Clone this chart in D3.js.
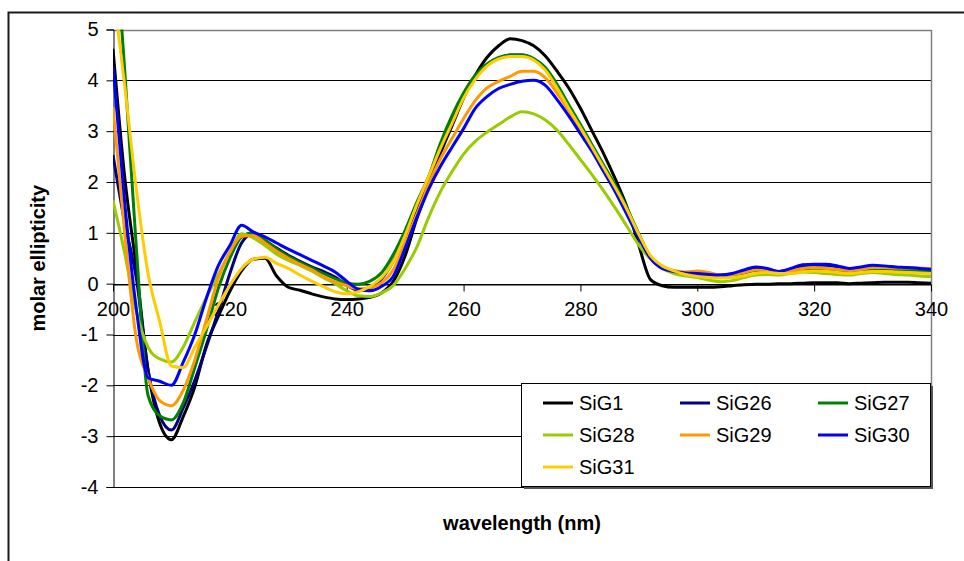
<!DOCTYPE html>
<html>
<head>
<meta charset="utf-8">
<script src="https://cdn.jsdelivr.net/npm/d3@7"></script>
<style>
  html, body { margin: 0; padding: 0; background: #fff; }
  svg text { font-family: Arial, "Liberation Sans", sans-serif; }
</style>
</head>
<body>
<svg id="chart" width="964" height="561"></svg>
<script>
// Wavelength grid (nm), 2 nm steps
const wavelengths = d3.range(200, 341, 2);

const seriesNames = ["SiG1", "SiG26", "SiG27", "SiG28", "SiG29", "SiG30", "SiG31"];
const seriesColors = ["#000000", "#000080", "#008000", "#99CC00", "#FF9900", "#0000FF", "#FFCC00"];

// Molar ellipticity per series, one value per wavelength
const sig1 = [4.62, 2.1, 0.3, -1.7, -2.75, -3.07, -2.62, -2.03, -1.2, -0.65, -0.15, 0.25, 0.48, 0.5, 0.15, -0.07,
  -0.13, -0.2, -0.26, -0.3, -0.31, -0.3, -0.27, -0.18, 0.05, 0.55, 1.28, 1.9, 2.55, 3.1, 3.65, 4.1, 4.45, 4.68,
  4.82, 4.78, 4.68, 4.48, 4.18, 3.85, 3.45, 3.0, 2.55, 2.05, 1.5, 0.75, 0.08, -0.04, -0.07, -0.07, -0.07, -0.07,
  -0.06, -0.04, -0.02, -0.01, -0.01, 0.0, 0.0, 0.01, 0.02, 0.02, 0.02, 0.0, 0.01, 0.02, 0.03, 0.03, 0.03, 0.02, 0.01];
const sig26 = [2.53, 1.2, 0.1, -1.7, -2.6, -2.88, -2.45, -1.9, -1.24, -0.55, 0.2, 0.8, 0.98, 0.85, 0.7, 0.56,
  0.44, 0.33, 0.24, 0.13, -0.03, -0.13, -0.09, 0.1, 0.45, 0.95, 1.5, 2.05, 2.65, 3.2, 3.7, 4.08, 4.3, 4.43,
  4.5, 4.5, 4.42, 4.22, 3.88, 3.48, 3.1, 2.7, 2.3, 1.9, 1.45, 0.95, 0.5, 0.32, 0.24, 0.21, 0.2, 0.18,
  0.17, 0.19, 0.24, 0.3, 0.28, 0.24, 0.28, 0.34, 0.36, 0.36, 0.33, 0.29, 0.31, 0.34, 0.34, 0.32, 0.31, 0.29, 0.27];
const sig27 = [7.5, 4.2, 0.7, -2.2, -2.6, -2.68, -2.35, -1.65, -0.91, -0.1, 0.5, 0.92, 1.0, 0.86, 0.68, 0.54,
  0.42, 0.31, 0.2, 0.1, 0.01, -0.01, 0.05, 0.22, 0.58, 1.05, 1.6, 2.1, 2.75, 3.3, 3.75, 4.1, 4.32, 4.45,
  4.5, 4.5, 4.43, 4.25, 3.92, 3.52, 3.13, 2.73, 2.33, 1.93, 1.48, 0.98, 0.52, 0.32, 0.24, 0.2, 0.18, 0.17,
  0.16, 0.17, 0.21, 0.26, 0.26, 0.23, 0.25, 0.29, 0.3, 0.29, 0.27, 0.25, 0.27, 0.29, 0.29, 0.28, 0.27, 0.26, 0.25];
const sig28 = [1.64, 0.6, -0.55, -1.25, -1.48, -1.54, -1.25, -0.75, -0.27, 0.18, 0.62, 0.98, 0.9, 0.75, 0.58, 0.46,
  0.36, 0.25, 0.12, 0.0, -0.14, -0.24, -0.25, -0.18, -0.03, 0.3, 0.72, 1.3, 1.8, 2.2, 2.55, 2.8, 2.98, 3.13,
  3.28, 3.38, 3.34, 3.22, 3.02, 2.74, 2.44, 2.14, 1.82, 1.48, 1.12, 0.76, 0.48, 0.3, 0.2, 0.15, 0.12, 0.07,
  0.04, 0.06, 0.12, 0.17, 0.18, 0.17, 0.2, 0.23, 0.22, 0.2, 0.18, 0.17, 0.2, 0.22, 0.2, 0.18, 0.17, 0.15, 0.14];
const sig29 = [3.47, 1.0, -1.1, -1.85, -2.3, -2.4, -2.1, -1.5, -0.71, 0.1, 0.62, 0.93, 0.95, 0.8, 0.64, 0.5,
  0.38, 0.27, 0.14, 0.04, -0.04, -0.1, -0.08, 0.02, 0.28, 0.8, 1.35, 1.95, 2.45, 2.85, 3.25, 3.6, 3.85, 3.98,
  4.08, 4.18, 4.18, 4.05, 3.75, 3.4, 3.0, 2.65, 2.25, 1.85, 1.4, 0.95, 0.5, 0.32, 0.26, 0.23, 0.25, 0.22,
  0.17, 0.18, 0.22, 0.27, 0.27, 0.23, 0.25, 0.3, 0.32, 0.3, 0.28, 0.26, 0.28, 0.32, 0.32, 0.31, 0.31, 0.31, 0.3];
const sig30 = [4.27, 1.6, -0.5, -1.85, -1.92, -2.0, -1.55, -1.0, -0.28, 0.35, 0.75, 1.15, 1.02, 0.92, 0.8, 0.68,
  0.57, 0.46, 0.35, 0.23, 0.05, -0.11, -0.14, -0.05, 0.15, 0.7, 1.3, 1.85, 2.3, 2.68, 3.05, 3.45, 3.68, 3.84,
  3.92, 3.98, 4.0, 3.9, 3.62, 3.3, 2.95, 2.6, 2.2, 1.8, 1.35, 0.9, 0.5, 0.3, 0.24, 0.21, 0.2, 0.18,
  0.17, 0.2, 0.27, 0.33, 0.3, 0.24, 0.3, 0.37, 0.38, 0.38, 0.35, 0.3, 0.33, 0.36, 0.35, 0.33, 0.32, 0.3, 0.28];
const sig31 = [5.8, 3.9, 1.85, 0.2, -0.75, -1.62, -1.65, -1.25, -0.85, -0.43, -0.03, 0.3, 0.48, 0.52, 0.4, 0.3,
  0.17, 0.05, -0.06, -0.16, -0.2, -0.16, -0.05, 0.12, 0.44, 0.95, 1.55, 2.1, 2.65, 3.15, 3.65, 4.02, 4.28, 4.42,
  4.47, 4.47, 4.4, 4.2, 3.85, 3.45, 3.07, 2.68, 2.28, 1.88, 1.45, 0.97, 0.55, 0.35, 0.25, 0.18, 0.14, 0.12,
  0.11, 0.12, 0.15, 0.2, 0.22, 0.2, 0.2, 0.23, 0.25, 0.24, 0.22, 0.2, 0.22, 0.24, 0.24, 0.23, 0.22, 0.21, 0.2];

const seriesValues = [sig1, sig26, sig27, sig28, sig29, sig30, sig31];

const xTicks = [200, 220, 240, 260, 280, 300, 320, 340];
const yTicks = [-4, -3, -2, -1, 0, 1, 2, 3, 4, 5];

const svg = d3.select("#chart");
const plot = { left: 113, right: 931, top: 29.5, bottom: 487 };
const fontSize = 20;
const fontFamily = "Arial, 'Liberation Sans', sans-serif";

const x = d3.scaleLinear().domain([200, 340]).range([plot.left, plot.right]);
const y = d3.scaleLinear().domain([-4, 5]).range([plot.bottom, plot.top]);

// Outer chart frame (left and top edges visible)
svg.append("path")
  .attr("d", `M8.5,561 V12.5 H964`)
  .attr("fill", "none").attr("stroke", "#1a1a1a").attr("stroke-width", 2);

// Horizontal gridlines
svg.append("g").selectAll("line")
  .data(yTicks.filter(v => v < 5))
  .join("line")
  .attr("x1", plot.left).attr("x2", plot.right)
  .attr("y1", d => Math.round(y(d)) + 0.5).attr("y2", d => Math.round(y(d)) + 0.5)
  .attr("stroke", "#000").attr("stroke-width", 1);

// Plot area border, top and right
svg.append("path")
  .attr("d", `M${plot.left},${Math.round(plot.top) + 0.5} H${plot.right + 0.5} V${plot.bottom}`)
  .attr("fill", "none").attr("stroke", "#808080").attr("stroke-width", 1.5);

// Y axis
const yAxis = d3.axisLeft(y).tickValues(yTicks).tickSize(7).tickPadding(8).tickFormat(d => String(d));
const gy = svg.append("g").attr("transform", `translate(${plot.left + 0.5},0)`).call(yAxis);
gy.select(".domain").attr("stroke", "#000");
gy.selectAll(".tick line").attr("stroke", "#000");
gy.selectAll("text").attr("font-size", fontSize).attr("fill", "#000").attr("font-family", fontFamily);

// X axis crossing at zero
const xAxis = d3.axisBottom(x).tickValues(xTicks).tickSize(7).tickPadding(10).tickFormat(d => String(d));
const gx = svg.append("g").attr("transform", `translate(0,${Math.round(y(0)) + 0.5})`).call(xAxis);
gx.select(".domain").attr("stroke", "#000").attr("d", `M${plot.left},0.5H${plot.right}`);
gx.selectAll(".tick line").attr("stroke", "#000");
gx.selectAll("text").attr("font-size", fontSize).attr("fill", "#000").attr("font-family", fontFamily);

// Series lines, clipped to the plot area
svg.append("clipPath").attr("id", "plotClip")
  .append("rect")
  .attr("x", plot.left).attr("y", plot.top)
  .attr("width", plot.right - plot.left).attr("height", plot.bottom - plot.top);

const line = d3.line()
  .x((d, i) => x(wavelengths[i]))
  .y(d => y(d))
  .curve(d3.curveMonotoneX);

svg.append("g").attr("clip-path", "url(#plotClip)")
  .selectAll("path")
  .data(seriesValues)
  .join("path")
  .attr("d", d => line(d))
  .attr("fill", "none")
  .attr("stroke", (d, i) => seriesColors[i])
  .attr("stroke-width", 3)
  .attr("stroke-linejoin", "round");

// Axis titles
svg.append("text")
  .attr("x", (plot.left + plot.right) / 2).attr("y", 530)
  .attr("text-anchor", "middle")
  .attr("font-size", fontSize).attr("font-weight", "bold")
  .text("wavelength (nm)");

svg.append("text")
  .attr("transform", `translate(45,${(plot.top + plot.bottom) / 2}) rotate(-90)`)
  .attr("text-anchor", "middle")
  .attr("font-size", fontSize).attr("font-weight", "bold")
  .text("molar ellipticity");

// Legend
const legend = { x: 521, y: 383, w: 409, h: 103 };
svg.append("rect")
  .attr("x", legend.x + 3).attr("y", legend.y + 3)
  .attr("width", legend.w).attr("height", legend.h)
  .attr("fill", "#555");
svg.append("rect")
  .attr("x", legend.x + 0.5).attr("y", legend.y + 0.5)
  .attr("width", legend.w).attr("height", legend.h)
  .attr("fill", "#fff").attr("stroke", "#000").attr("stroke-width", 1);

const colX = [543, 680, 818];
const rowY = [403, 435, 467];
const items = svg.append("g").selectAll("g")
  .data(seriesNames)
  .join("g")
  .attr("transform", (d, i) => `translate(${colX[i % 3]},${rowY[Math.floor(i / 3)]})`);
items.append("line")
  .attr("x1", 0).attr("x2", 30).attr("y1", 0).attr("y2", 0)
  .attr("stroke", (d, i) => seriesColors[i]).attr("stroke-width", 3);
items.append("text")
  .attr("x", 36).attr("y", 0).attr("dy", "0.35em")
  .attr("font-size", fontSize)
  .text(d => d);
</script>
</body>
</html>
